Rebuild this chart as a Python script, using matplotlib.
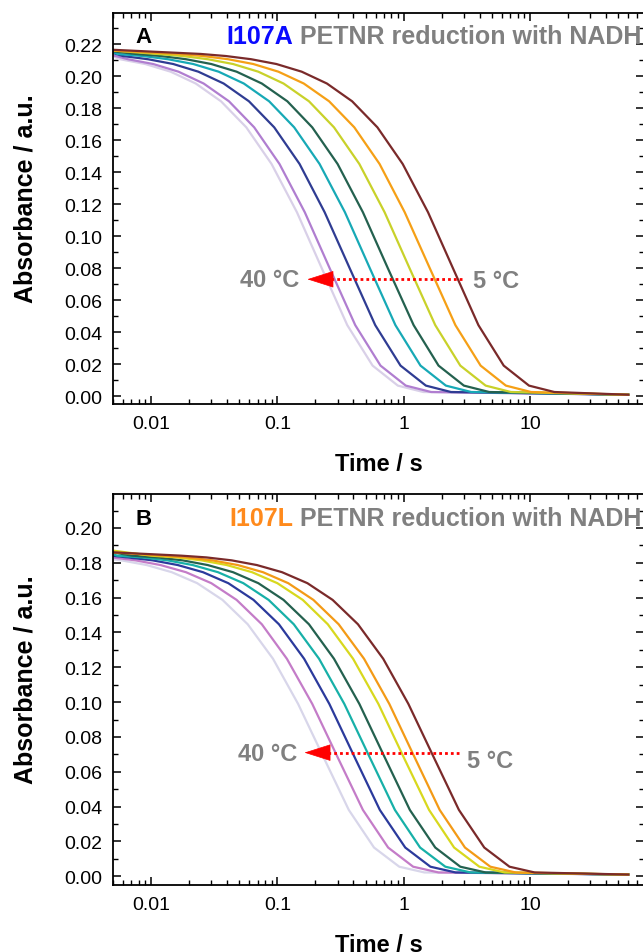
import numpy as np
import matplotlib
matplotlib.use("Agg")
import matplotlib.pyplot as plt
from matplotlib.ticker import FixedLocator, NullFormatter, MultipleLocator, LogLocator

plt.rcParams['font.family'] = ['Liberation Sans', 'DejaVu Sans']

# temperatures, slowest (5 C) to fastest (40 C)
temps = [5, 10, 15, 20, 25, 30, 35, 40]
colors_a = ['#7a2a2a', '#f5a016', '#c9d12a', '#24614f', '#17a9b6', '#2f3c93', '#b07ed0', '#d9d0e8']
colors_b = ['#7a2a2a', '#f39a16', '#d8d81e', '#24614f', '#17b0a8', '#2b3a9c', '#c47cc8', '#d8d6ea']

# ---- panel A: I107A -- absorbance levels, and the time (s) at which each trace passes them
levels_a = [0.2139, 0.2126, 0.2106, 0.2076, 0.2028, 0.1954, 0.1843, 0.1680,
            0.1451, 0.1149, 0.0795, 0.0443, 0.0190, 0.0065, 0.0025]
start_a = [0.2165, 0.216, 0.216, 0.2155, 0.215, 0.2145, 0.213, 0.2125]   # value at t = 0.005 s
t_a_05 = [0.0247, 0.0391, 0.0620, 0.0983, 0.156, 0.247, 0.391, 0.620, 0.983, 1.56, 2.47, 3.91, 6.20, 9.83, 15.6]
t_a_10 = [0.0162, 0.0257, 0.0407, 0.0645, 0.102, 0.162, 0.257, 0.407, 0.645, 1.02, 1.62, 2.57, 4.07, 6.45, 10.2]
t_a_15 = [0.0112, 0.0178, 0.0281, 0.0446, 0.0707, 0.112, 0.178, 0.281, 0.446, 0.707, 1.12, 1.78, 2.81, 4.46, 7.07]
t_a_20 = [0.00754, 0.0120, 0.0189, 0.0300, 0.0476, 0.0754, 0.120, 0.189, 0.300, 0.476, 0.754, 1.20, 1.89, 3.00, 4.76]
t_a_25 = [0.00543, 0.00861, 0.0136, 0.0216, 0.0343, 0.0543, 0.0861, 0.136, 0.216, 0.343, 0.543, 0.861, 1.36, 2.16, 3.43]
t_a_30 = [0.00376, 0.00596, 0.00945, 0.0150, 0.0237, 0.0376, 0.0596, 0.0945, 0.150, 0.237, 0.376, 0.596, 0.945, 1.50, 2.37]
t_a_35 = [0.00261, 0.00414, 0.00656, 0.0104, 0.0165, 0.0261, 0.0414, 0.0656, 0.104, 0.165, 0.261, 0.414, 0.656, 1.04, 1.65]
t_a_40 = [0.00226, 0.00358, 0.00568, 0.0090, 0.0143, 0.0226, 0.0358, 0.0568, 0.0900, 0.143, 0.226, 0.358, 0.568, 0.900, 1.43]
end_a = 0.0008   # baseline at t = 60 s

# ---- panel B: I107L
levels_b = [0.1841, 0.1831, 0.1814, 0.1787, 0.1746, 0.1683, 0.1587, 0.1447,
            0.1249, 0.0990, 0.0684, 0.0381, 0.0165, 0.0055, 0.0022]
start_b = [0.186, 0.186, 0.187, 0.186, 0.185, 0.184, 0.183, 0.182]
t_b_05 = [0.0173, 0.0274, 0.0435, 0.0689, 0.109, 0.173, 0.274, 0.435, 0.689, 1.09, 1.73, 2.74, 4.35, 6.89, 10.9]
t_b_10 = [0.0122, 0.0193, 0.0306, 0.0486, 0.0770, 0.122, 0.193, 0.306, 0.486, 0.770, 1.22, 1.93, 3.06, 4.86, 7.70]
t_b_15 = [0.0100, 0.0159, 0.0251, 0.0398, 0.0631, 0.100, 0.159, 0.251, 0.398, 0.631, 1.00, 1.59, 2.51, 3.98, 6.31]
t_b_20 = [0.00707, 0.0112, 0.0178, 0.0281, 0.0446, 0.0707, 0.112, 0.178, 0.281, 0.446, 0.707, 1.12, 1.78, 2.81, 4.46]
t_b_25 = [0.00538, 0.00853, 0.0135, 0.0214, 0.0339, 0.0538, 0.0853, 0.135, 0.214, 0.339, 0.538, 0.853, 1.35, 2.14, 3.39]
t_b_30 = [0.00409, 0.00648, 0.0103, 0.0163, 0.0258, 0.0409, 0.0648, 0.103, 0.163, 0.258, 0.409, 0.648, 1.03, 1.63, 2.58]
t_b_35 = [0.00300, 0.00476, 0.00754, 0.0119, 0.0189, 0.0300, 0.0476, 0.0754, 0.119, 0.189, 0.300, 0.476, 0.754, 1.19, 1.89]
t_b_40 = [0.00232, 0.00368, 0.00583, 0.00924, 0.0146, 0.0232, 0.0368, 0.0583, 0.0924, 0.146, 0.232, 0.368, 0.583, 0.924, 1.46]
end_b = 0.001

t_first, t_last = 0.005, 60.0

xtick_vals = [0.01, 0.1, 1, 10]
xtick_labels = ['0.01', '0.1', '1', '10']

GREY = '#808080'
RED = '#ff0000'


def draw_panel(ax, levels, starts, traces, end_val, cols, ylim):
    # fastest (lightest) first so the slow traces sit on top
    for i in reversed(range(len(traces))):
        t = np.array(traces[i])
        a = np.array(levels)
        keep = t > t_first
        tt = np.concatenate([[t_first], t[keep], [t_last]])
        aa = np.concatenate([[starts[i]], a[keep], [end_val]])
        ax.plot(tt, aa, color=cols[i], lw=1.6, solid_joinstyle='round')

    ax.set_xscale('log')
    ax.set_xlim(0.005, 80)
    ax.set_ylim(*ylim)
    ax.xaxis.set_major_locator(FixedLocator(xtick_vals))
    ax.set_xticklabels(xtick_labels)
    ax.xaxis.set_minor_locator(LogLocator(base=10, subs=np.arange(2, 10)))
    ax.xaxis.set_minor_formatter(NullFormatter())
    ax.yaxis.set_major_locator(MultipleLocator(0.02))
    ax.yaxis.set_minor_locator(MultipleLocator(0.01))
    ax.yaxis.set_major_formatter(plt.FuncFormatter(lambda v, p: f'{v:.2f}'))

    ax.tick_params(which='both', direction='in', top=True, right=True, labelsize=14, pad=8)
    ax.tick_params(which='major', length=6, width=1.1)
    ax.tick_params(which='minor', length=3.5, width=1.0)
    for s in ax.spines.values():
        s.set_linewidth(1.3)

    ax.set_xlabel('Time / s', fontsize=17, fontweight='bold')
    ax.set_ylabel('Absorbance / a.u.', fontsize=18, fontweight='bold')


def temp_arrow(ax, y, x_start, x_base, x_tip):
    # dotted red shaft + solid filled head
    ax.plot([x_start, x_base], [y, y], color=RED, lw=2.0, linestyle=(0, (1, 1.1)))
    ax.annotate('', xy=(x_tip, y), xytext=(x_base, y),
                arrowprops=dict(arrowstyle='-|>,head_length=1.1,head_width=0.35',
                                color=RED, lw=0.5, shrinkA=0, shrinkB=0,
                                mutation_scale=16))


fig = plt.figure(figsize=(6.43, 9.53), dpi=100)
ax1 = fig.add_axes([113 / 643, 1 - 405 / 953, 531 / 643, 391 / 953])
ax2 = fig.add_axes([113 / 643, 1 - 886 / 953, 531 / 643, 391 / 953])

# Panel A
draw_panel(ax1, levels_a, start_a,
           [t_a_05, t_a_10, t_a_15, t_a_20, t_a_25, t_a_30, t_a_35, t_a_40],
           end_a, colors_a, (-0.005, 0.2395))
ax1.xaxis.set_label_coords(0.5, -0.123)
ax1.yaxis.set_label_coords(-0.142, 0.528)
temp_arrow(ax1, 0.073, 2.89, 0.245, 0.173)
ax1.text(0.150, 0.073, '40 °C', fontsize=17, fontweight='bold', color=GREY, ha='right', va='center')
ax1.text(3.53, 0.0724, '5 °C', fontsize=17, fontweight='bold', color=GREY, ha='left', va='center')
ax1.text(0.042, 0.941, 'A', transform=ax1.transAxes, fontsize=16, fontweight='bold', ha='left', va='center')
t1 = ax1.text(0.2136, 0.941, 'I107A', transform=ax1.transAxes, fontsize=18, fontweight='bold',
              color='#0a0aff', ha='left', va='center')
ax1.annotate(' PETNR reduction with NADH.', xy=(1, 0), xycoords=t1, fontsize=18,
             fontweight='bold', color=GREY, ha='left', va='bottom')

# Panel B
draw_panel(ax2, levels_b, start_b,
           [t_b_05, t_b_10, t_b_15, t_b_20, t_b_25, t_b_30, t_b_35, t_b_40],
           end_b, colors_b, (-0.005, 0.2195))
ax2.xaxis.set_label_coords(0.5, -0.124)
ax2.yaxis.set_label_coords(-0.142, 0.527)
temp_arrow(ax2, 0.071, 2.73, 0.223, 0.164)
ax2.text(0.144, 0.0703, '40 °C', fontsize=17, fontweight='bold', color=GREY, ha='right', va='center')
ax2.text(3.16, 0.0663, '5 °C', fontsize=17, fontweight='bold', color=GREY, ha='left', va='center')
ax2.text(0.042, 0.9386, 'B', transform=ax2.transAxes, fontsize=16, fontweight='bold', ha='left', va='center')
t2 = ax2.text(0.219, 0.9386, 'I107L', transform=ax2.transAxes, fontsize=18, fontweight='bold',
              color='#ff8a1c', ha='left', va='center')
ax2.annotate(' PETNR reduction with NADH.', xy=(1, 0), xycoords=t2, fontsize=18,
             fontweight='bold', color=GREY, ha='left', va='bottom')

fig.savefig('out.png', dpi=100)
